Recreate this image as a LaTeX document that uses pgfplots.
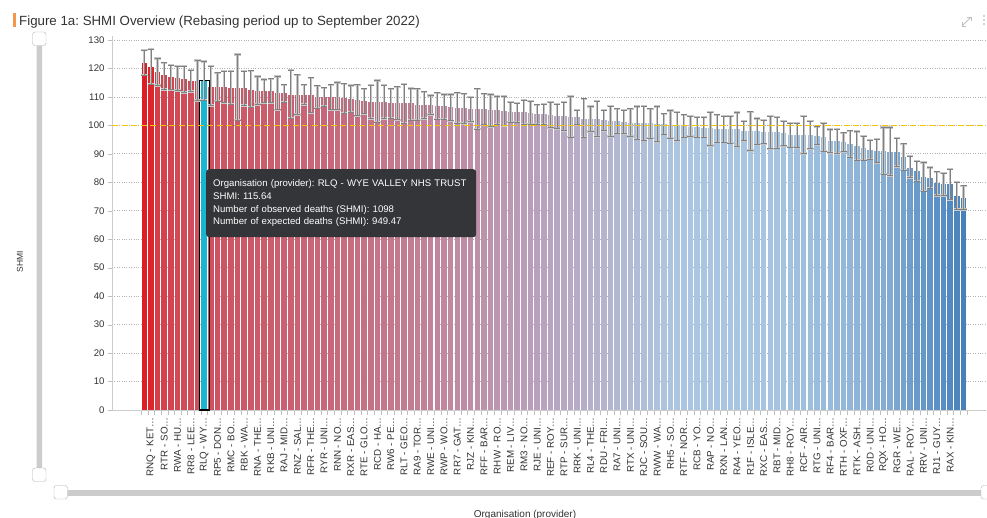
\documentclass[border=0pt]{standalone}
\usepackage{fontspec}
\setmainfont{Liberation Sans}
\usepackage{pgfplots}
\pgfplotsset{compat=1.18}
\usepackage{pgfplotstable}

% colour anchors (0-based bar index)
\definecolor{c0}{RGB}{221,30,38}
\definecolor{c1}{RGB}{219,38,46}
\definecolor{c2}{RGB}{213,62,72}
\definecolor{c3}{RGB}{208,74,86}
\definecolor{c4}{RGB}{204,88,104}
\definecolor{c5}{RGB}{198,108,126}
\definecolor{c6}{RGB}{192,135,158}
\definecolor{c7}{RGB}{184,162,190}
\definecolor{c8}{RGB}{180,182,208}
\definecolor{c9}{RGB}{172,198,226}
\definecolor{c10}{RGB}{166,196,226}
\definecolor{c11}{RGB}{148,184,218}
\definecolor{c12}{RGB}{130,170,210}
\definecolor{c13}{RGB}{106,154,202}
\definecolor{c14}{RGB}{88,142,196}
\definecolor{c15}{RGB}{72,128,186}
\definecolor{hov}{RGB}{24,182,210}
\definecolor{refline}{RGB}{245,196,0}
\definecolor{tipbg}{RGB}{52,53,56}
\definecolor{titlebar}{RGB}{245,150,80}
\definecolor{txt}{RGB}{51,51,51}

\newcommand\seg[4]{\foreach \i in {#1,...,#2}{\pgfmathtruncatemacro\pp{round(100*(#2-\i)/(#2-#1))}\xglobal\colorlet{bc\i}{#3!\pp!#4}}}
\seg{0}{1}{c0}{c1}
\seg{1}{2}{c1}{c2}
\seg{2}{5}{c2}{c3}
\seg{5}{15}{c3}{c4}
\seg{15}{30}{c4}{c5}
\seg{30}{45}{c5}{c6}
\seg{45}{60}{c6}{c7}
\seg{60}{70}{c7}{c8}
\seg{70}{80}{c8}{c9}
\seg{80}{95}{c9}{c10}
\seg{95}{105}{c10}{c11}
\seg{105}{112}{c11}{c12}
\seg{112}{116}{c12}{c13}
\seg{116}{120}{c13}{c14}
\seg{120}{123}{c14}{c15}
\xglobal\colorlet{bc9}{hov}

\pgfplotstableread{
k v hi lo
1 121.9 126.4 117.6
2 120.6 126.8 114.5
3 118.6 123.5 114.0
4 117.7 122.0 112.6
5 117.0 121.1 112.5
6 116.6 120.8 112.2
7 116.3 120.8 111.6
8 115.7 119.4 111.9
9 115.6 122.8 108.7
10 115.64 122.4 108.8
11 113.5 120.8 107.0
12 113.5 118.5 108.5
13 113.5 119.1 107.9
14 113.2 119.1 107.5
15 113.0 124.9 101.8
16 113.0 119.1 107.0
17 112.6 119.2 106.4
18 112.2 117.2 107.3
19 112.2 116.1 107.9
20 112.2 116.4 107.9
21 111.2 117.2 105.5
22 111.2 114.3 108.2
23 110.8 119.4 102.6
24 110.6 117.8 103.8
25 110.6 114.3 107.3
26 110.6 116.7 104.4
27 109.9 113.9 106.1
28 109.9 113.2 106.7
29 109.9 114.3 105.5
30 109.9 115.1 105.5
31 109.5 114.6 104.3
32 109.3 114.0 104.7
33 108.8 114.3 103.4
34 108.6 112.8 104.1
35 108.2 114.1 102.4
36 108.2 115.8 101.1
37 108.2 114.1 102.4
38 107.9 112.8 102.6
39 107.7 113.5 102.0
40 107.7 114.5 100.8
41 107.7 113.0 101.8
42 107.3 112.8 101.8
43 107.3 111.8 102.4
44 107.1 110.5 103.8
45 106.9 111.4 102.2
46 106.7 110.8 102.2
47 106.4 110.8 101.6
48 106.0 111.4 100.8
49 106.0 111.1 100.7
50 105.7 109.9 101.4
51 105.7 112.8 98.7
52 105.7 111.1 100.2
53 105.3 110.8 99.6
54 105.3 110.1 100.5
55 104.9 110.1 99.9
56 104.6 108.1 101.2
57 104.6 107.8 101.2
58 104.6 108.8 100.5
59 104.2 108.5 100.5
60 103.9 107.2 100.5
61 103.9 107.5 100.5
62 103.6 108.2 99.1
63 103.3 107.5 98.8
64 103.3 108.2 98.1
65 102.9 110.1 95.8
66 102.9 105.4 100.2
67 102.4 109.3 95.8
68 102.4 106.6 97.9
69 102.4 108.5 96.1
70 101.8 105.4 98.1
71 101.5 106.8 96.1
72 101.5 105.8 97.2
73 101.2 105.4 97.1
74 100.9 105.8 96.1
75 100.9 106.6 95.2
76 100.9 106.8 94.8
77 100.9 105.8 95.5
78 100.4 106.6 94.3
79 100.6 104.1 96.9
80 100.0 105.2 95.5
81 100.0 104.7 94.6
82 100.0 103.7 95.8
83 99.6 103.3 96.1
84 99.4 102.9 95.8
85 99.1 102.9 95.8
86 99.1 104.7 92.9
87 98.7 103.7 94.1
88 98.7 103.3 94.1
89 98.7 103.3 93.8
90 98.7 104.5 92.6
91 98.1 101.5 94.6
92 97.9 104.8 91.2
93 97.9 102.4 93.2
94 97.5 101.9 93.5
95 97.5 103.3 91.8
96 97.5 102.9 92.0
97 97.2 101.5 92.8
98 96.6 100.8 92.3
99 96.6 100.8 92.1
100 96.6 103.3 90.1
101 96.6 101.5 91.8
102 96.2 99.6 93.2
103 95.9 100.8 91.0
104 94.6 98.5 90.5
105 94.6 98.7 90.1
106 94.2 97.4 90.7
107 93.6 98.1 88.8
108 92.9 97.8 87.8
109 92.2 96.2 87.8
110 91.5 94.8 88.1
111 90.9 95.2 86.8
112 90.9 99.3 82.8
113 90.6 99.3 82.4
114 90.6 95.5 85.5
115 88.9 93.5 84.2
116 85.2 89.2 81.7
117 84.0 87.5 80.4
118 81.9 87.0 76.9
119 81.6 85.2 77.9
120 79.6 83.7 75.4
121 79.3 83.2 75.4
122 79.3 84.6 73.9
123 75.1 80.0 70.4
124 74.6 78.8 70.4
}\shmi

\begin{document}
\frenchspacing
\begin{tikzpicture}
\useasboundingbox (0,0) rectangle (987bp,-518bp);
\fill[white] (0,0) rectangle (987bp,-518bp);

\begin{axis}[
  at={(112bp,-410bp)}, anchor=south west,
  scale only axis, width=873bp, height=374bp,
  xmin=-3.85, xmax=127.23, ymin=0, ymax=131.4,
  axis lines=left, axis line style={-, draw=black!20},
  ytick={0,10,...,130},
  ymajorgrids, grid style={dotted, draw=black!30, line width=0.7bp},
  tick align=outside, major tick length=4bp, minor tick length=5bp,
  ytick style={draw=black!25},
  major x tick style={draw=none}, minor x tick style={draw=black!25},
  xtick={2,4,...,122}, minor xtick={0.5,1.5,...,124.5},
  xticklabels={RNQ - KET…,RTR - SO…,RWA - HU…,RR8 - LEE…,RLQ - WY…,RP5 - DON…,RMC - BO…,RBK - WA…,RNA - THE…,RKB - UNI…,RAJ - MID…,RNZ - SAL…,RFR - THE…,RYR - UNI…,RNN - NO…,RXR - EAS…,RTE - GLO…,RCD - HA…,RW6 - PE…,RLT - GEO…,RA9 - TOR…,RWE - UNI…,RWP - WO…,RR7 - GAT…,RJZ - KIN…,RFF - BAR…,RHW - RO…,REM - LIV…,RM3 - NO…,RJE - UNI…,REF - ROY…,RTP - SUR…,RRK - UNI…,RL4 - THE…,RDU - FRI…,RA7 - UNI…,RTX - UNI…,RJC - SOU…,RWW - WA…,RH5 - SO…,RTF - NOR…,RCB - YO…,RAP - NO…,RXN - LAN…,RA4 - YEO…,R1F - ISLE…,RXC - EAS…,RBT - MID…,RH8 - ROY…,RCF - AIR…,RTG - UNI…,RF4 - BAR…,RTH - OXF…,RTK - ASH…,R0D - UNI…,RQX - HO…,RGR - WE…,RAL - ROY…,RRV - UNI…,RJ1 - GUY…,RAX - KIN…},
  xticklabel style={rotate=90, anchor=east, font=\fontsize{9.8bp}{11bp}\selectfont, text=txt},
  yticklabel style={font=\fontsize{9.6bp}{11bp}\selectfont, text=txt},
  /pgf/number format/assume math mode=true,
]
\pgfplotsinvokeforeach{0,...,123}{
  \addplot[ybar, bar width=0.84, bar shift=0pt, draw=none, fill=bc#1,
    restrict expr to domain={\coordindex}{#1:#1}] table[x=k, y=v] {\shmi};
}
% hovered bar outline
\addplot[ybar, bar width=1.5, bar shift=0pt, draw=black, line width=1.1bp, fill=none,
    restrict expr to domain={\coordindex}{9:9}] table[x=k, y=v] {\shmi};
% error bars: light halo then dark line
\addplot[draw=none, mark=none, forget plot,
  error bars/.cd, y dir=both, y explicit, error mark=|,
  error bar style={draw=black!22, line width=2.3bp},
  error mark options={draw=black!22, line width=2.3bp, mark size=3.2bp}]
  table[x=k, y=v, y error plus expr=\thisrow{hi}-\thisrow{v}, y error minus expr=\thisrow{v}-\thisrow{lo}] {\shmi};
\addplot[draw=none, mark=none, forget plot,
  error bars/.cd, y dir=both, y explicit, error mark=|,
  error bar style={draw=black!50, line width=0.9bp},
  error mark options={draw=black!50, line width=0.9bp, mark size=3bp}]
  table[x=k, y=v, y error plus expr=\thisrow{hi}-\thisrow{v}, y error minus expr=\thisrow{v}-\thisrow{lo}] {\shmi};
% reference line at 100
\addplot[forget plot, draw=refline, line width=1.6bp, dash pattern=on 6bp off 3.5bp]
  coordinates {(-3.85,100) (127.23,100)};
\end{axis}

% title
\fill[titlebar] (13bp,-13bp) rectangle (16bp,-27bp);
\node[anchor=base west, inner sep=0pt, font=\fontsize{13.3bp}{15bp}\selectfont, text=txt] at (19bp,-25bp)
  {Figure 1a: SHMI Overview (Rebasing period up to September 2022)};
% top right icons
\foreach \yy in {16,20,24} \fill[black!35] (984bp,-\yy bp) circle (0.9bp);
\draw[black!25, line width=0.8bp] (962bp,-26bp) -- (971bp,-17bp);
\draw[black!25, line width=0.8bp] (967bp,-17bp) -- (971bp,-17bp) -- (971bp,-21bp);
\draw[black!25, line width=0.8bp] (962bp,-22bp) -- (962bp,-26bp) -- (966bp,-26bp);

% y axis title
\node[rotate=90, font=\fontsize{8.5bp}{10bp}\selectfont, text=txt] at (20bp,-262bp) {SHMI};
% x axis title
\node[anchor=base, font=\fontsize{10bp}{12bp}\selectfont, text=txt] at (525bp,-517bp) {Organisation (provider)};

% sliders
\fill[black!20, rounded corners=1bp] (36.5bp,-38bp) rectangle (42bp,-472bp);
\draw[black!30, fill=white, rounded corners=2.5bp] (32.5bp,-32bp) rectangle (46bp,-45.5bp);
\draw[black!30, fill=white, rounded corners=2.5bp] (32.5bp,-468bp) rectangle (46bp,-481.5bp);
\fill[black!20] (60bp,-490bp) rectangle (987bp,-495.5bp);
\draw[black!30, fill=white, rounded corners=2.5bp] (54bp,-485.5bp) rectangle (67.5bp,-499bp);
\draw[black!30, fill=white, rounded corners=2.5bp] (981bp,-485.5bp) rectangle (994.5bp,-499bp);

% tooltip
\node[anchor=north west, fill=tipbg, rounded corners=3bp, text=white, inner xsep=7bp, inner ysep=0bp,
  minimum height=68bp, text width=256bp, align=left, font=\fontsize{9.6bp}{12.7bp}\selectfont]
  at (206bp,-169bp)
  {Organisation (provider): RLQ - WYE VALLEY NHS TRUST\\SHMI: 115.64\\Number of observed deaths (SHMI): 1098\\Number of expected deaths (SHMI): 949.47};
\end{tikzpicture}
\end{document}
